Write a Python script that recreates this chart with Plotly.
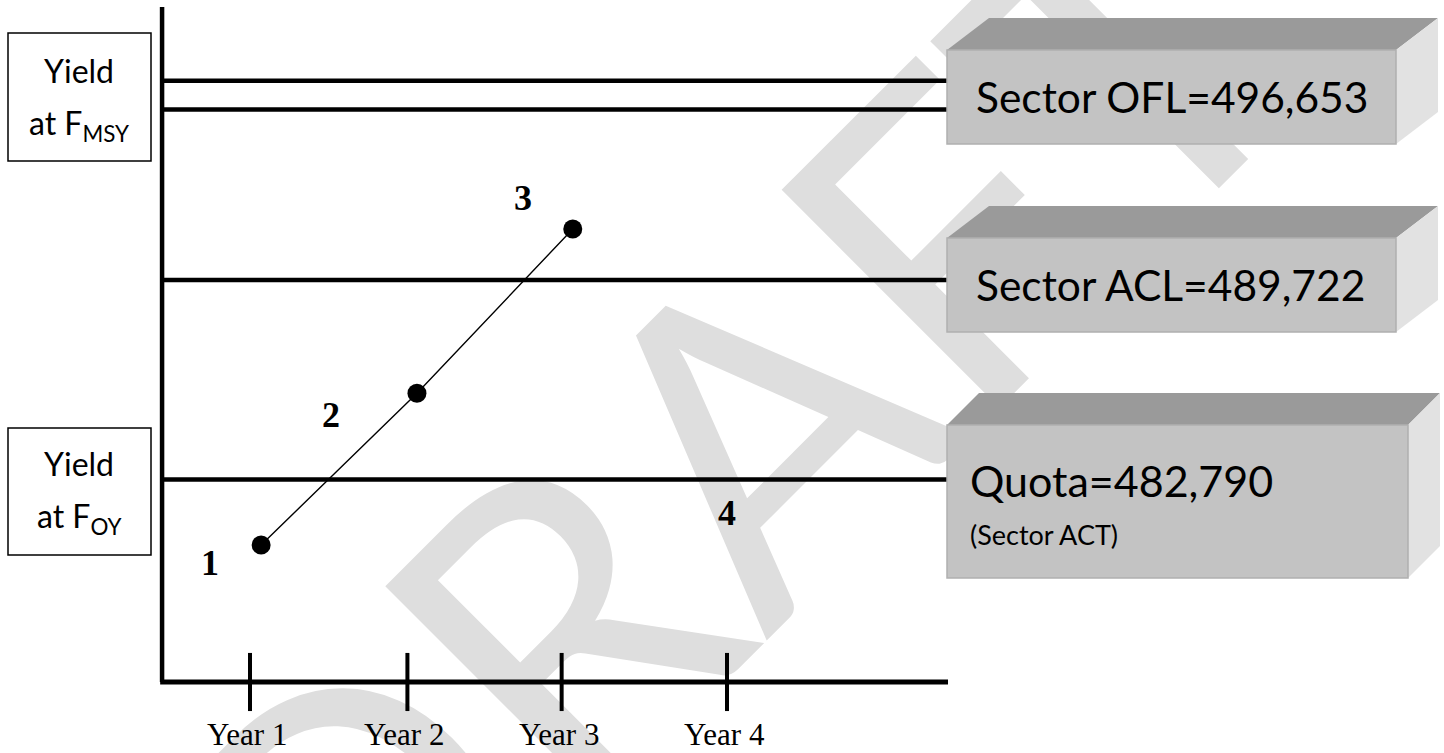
import plotly.graph_objects as go

W, H = 1444, 753

# ---------------- data ----------------
years = ["Year 1", "Year 2", "Year 3", "Year 4"]
year_pos = [1.0, 1.99, 2.96, 4.0]

point_year = [1.07, 2.05, 3.03]
point_yield = [480513, 485786, 491498]

step_labels = ["1", "2", "3", "4"]
step_label_year = [0.75, 1.51, 2.72, 4.0]
step_label_yield = [479887, 485032, 492575, 481626]

ref_names = ["Sector OFL", "Sector ACL", "Quota"]
ref_values = [496653, 489722, 482790]
fmsy_band_low = 495651          # lower line of the "Yield at F_MSY" band

# frame of the diagram (axis units)
x_range = [-0.5723, 8.5094]
y_range = [473283, 499457]
axis_x0, axis_x1 = 0.447, 5.39
axis_y0, axis_ytop = 475751, 499214
tick_half = 1010
year_label_yield = 473910

# ---------------- helpers ----------------
def px(x, y):
    return x / W, 1 - y / H

fig = go.Figure()

fig.add_trace(go.Scatter(
    x=point_year, y=point_yield, mode="lines+markers",
    line=dict(color="black", width=1.4),
    marker=dict(color="black", size=19),
    hoverinfo="skip", showlegend=False))

shapes = []
annotations = []

# watermark
cx, cy = px(712, 452)
shapes.append(dict(
    type="rect", xref="paper", yref="paper",
    x0=cx - 0.01, x1=cx + 0.01, y0=cy - 0.01, y1=cy + 0.01,
    line=dict(width=0, color="rgba(0,0,0,0)"), fillcolor="rgba(0,0,0,0)",
    layer="below",
    label=dict(text="DRAFT", textangle=-45, textposition="middle center",
               font=dict(family="Lato", size=430, color="#dedede"))))

# axes
shapes.append(dict(type="line", xref="x", yref="y", x0=axis_x0, x1=axis_x0,
                   y0=axis_y0, y1=axis_ytop, line=dict(color="black", width=4.5), layer="above"))
shapes.append(dict(type="line", xref="x", yref="y", x0=axis_x0 - 0.012, x1=axis_x1,
                   y0=axis_y0, y1=axis_y0, line=dict(color="black", width=5), layer="above"))
for xp in year_pos:
    shapes.append(dict(type="line", xref="x", yref="y", x0=xp, x1=xp,
                       y0=axis_y0 - tick_half, y1=axis_y0 + tick_half,
                       line=dict(color="black", width=4), layer="above"))
for yv in ref_values + [fmsy_band_low]:
    shapes.append(dict(type="line", xref="x", yref="y", x0=axis_x0, x1=axis_x1,
                       y0=yv, y1=yv, line=dict(color="black", width=4.5), layer="above"))

# year labels
for name, xp in zip(years, year_pos):
    annotations.append(dict(x=xp, y=year_label_yield, xref="x", yref="y", text=name,
                            showarrow=False, xshift=-3,
                            font=dict(family="Liberation Serif", size=31, color="black")))
# step numbers
for t, xv, yv in zip(step_labels, step_label_year, step_label_yield):
    annotations.append(dict(x=xv, y=yv, xref="x", yref="y", text="<b>%s</b>" % t,
                            showarrow=False,
                            font=dict(family="Liberation Serif", size=36, color="black")))

# left boxes
def left_box(y0, y1, sub, ty1, ty2):
    a0 = px(8, y0); a1 = px(151, y1)
    shapes.append(dict(type="rect", xref="paper", yref="paper", x0=a0[0], x1=a1[0],
                       y0=a1[1], y1=a0[1], line=dict(color="black", width=1.5),
                       fillcolor="white", layer="above"))
    for txt, ty in (("Yield", ty1), ("at F<sub>%s</sub>" % sub, ty2)):
        p = px(79, ty)
        annotations.append(dict(x=p[0], y=p[1], xref="paper", yref="paper", text=txt,
                                showarrow=False, xanchor="center", yanchor="middle",
                                font=dict(family="Lato", size=32, color="black")))

left_box(33, 161, "MSY", 70, 125)
left_box(428, 555, "OY", 463, 518)

# 3D boxes
def box3d(x0, y0, x1, y1, dx, dy):
    a = px(x0, y0); b = px(x1, y1)
    t1 = px(x0 + dx, y0 + dy); t2 = px(x1 + dx, y0 + dy); r3 = px(x1 + dx, y1 + dy)
    shapes.append(dict(type="path", xref="paper", yref="paper",
                       path="M %f,%f L %f,%f L %f,%f L %f,%f Z" % (a[0], a[1], t1[0], t1[1], t2[0], t2[1], b[0], a[1]),
                       fillcolor="#9a9a9a", line=dict(width=0), layer="above"))
    shapes.append(dict(type="path", xref="paper", yref="paper",
                       path="M %f,%f L %f,%f L %f,%f L %f,%f Z" % (b[0], a[1], t2[0], t2[1], r3[0], r3[1], b[0], b[1]),
                       fillcolor="#e2e2e2", line=dict(width=0), layer="above"))
    shapes.append(dict(type="rect", xref="paper", yref="paper", x0=a[0], x1=b[0],
                       y0=b[1], y1=a[1], fillcolor="#c3c3c3",
                       line=dict(color="#b0b0b0", width=1.5), layer="above"))

box3d(947, 50, 1396, 144, 42, -32)
box3d(947, 238, 1396, 332, 42, -32)
box3d(947, 425, 1408, 578, 32, -32)

def box_text(x, y, txt, size):
    p = px(x, y)
    annotations.append(dict(x=p[0], y=p[1], xref="paper", yref="paper", text=txt,
                            showarrow=False, xanchor="left", yanchor="middle",
                            font=dict(family="Lato", size=size, color="black")))

box_text(974, 96, "%s=%s" % (ref_names[0], format(ref_values[0], ",")), 42.5)
box_text(974, 284, "%s=%s" % (ref_names[1], format(ref_values[1], ",")), 42.5)
box_text(968, 480, "%s=%s" % (ref_names[2], format(ref_values[2], ",")), 43)
box_text(968, 534, "(Sector ACT)", 27)

fig.update_layout(
    width=W, height=H, margin=dict(l=0, r=0, t=0, b=0),
    paper_bgcolor="white", plot_bgcolor="white",
    xaxis=dict(range=x_range, visible=False, fixedrange=True),
    yaxis=dict(range=y_range, visible=False, fixedrange=True),
    shapes=shapes, annotations=annotations, showlegend=False,
)

fig.write_html("out.html")
